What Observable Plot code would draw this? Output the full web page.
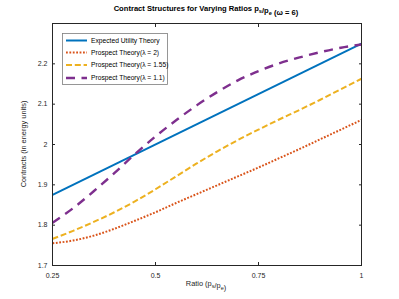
<!DOCTYPE html>
<html>
<head>
<meta charset="utf-8">
<script src="https://cdn.jsdelivr.net/npm/d3@7"></script>
<script src="https://cdn.jsdelivr.net/npm/@observablehq/plot@0.6"></script>
<style>
  html, body { margin: 0; padding: 0; background: #fff; }
  #chart { width: 399px; height: 299px; }
  svg { font-family: "Liberation Sans", Arial, Helvetica, sans-serif; }
</style>
</head>
<body>
<div id="chart"></div>
<script>
// ---- data ----
const ratioGrid = [0.25, 0.30, 0.35, 0.40, 0.45, 0.50, 0.55, 0.60, 0.65, 0.70, 0.75, 0.80, 0.85, 0.90, 0.95, 1.00];
const eutRatio = [0.25, 1.00];
const eutValues = [1.875, 2.25];
const pt2Values   = [1.755, 1.762, 1.774, 1.791, 1.811, 1.832, 1.855, 1.877, 1.899, 1.921, 1.943, 1.966, 1.989, 2.013, 2.037, 2.061];
const pt155Values = [1.766, 1.786, 1.808, 1.832, 1.859, 1.889, 1.921, 1.953, 1.983, 2.011, 2.037, 2.062, 2.086, 2.111, 2.137, 2.163];
const pt11Values  = [1.806, 1.842, 1.884, 1.929, 1.976, 2.020, 2.060, 2.097, 2.130, 2.159, 2.182, 2.201, 2.216, 2.229, 2.240, 2.248];
const seriesNames = ["Expected Utility Theory", "Prospect Theory(\u03bb = 2)", "Prospect Theory(\u03bb = 1.55)", "Prospect Theory(\u03bb = 1.1)"];
const seriesColors = ["#0072BD", "#D95319", "#EDB120", "#7E2F8E"];
const seriesDash = [null, "1.8,1.6", "6,2.8", "9,6.5"];
const seriesWidth = [2, 2, 2, 2.4];
const xTicks = [0.25, 0.5, 0.75, 1];
const xTickLabels = ["0.25", "0.5", "0.75", "1"];
const yTicks = [1.7, 1.8, 1.9, 2.0, 2.1, 2.2];
const yTickLabels = ["1.7", "1.8", "1.9", "2", "2.1", "2.2"];

const eut = eutRatio.map((x, i) => ({x, y: eutValues[i]}));
const pt2 = ratioGrid.map((x, i) => ({x, y: pt2Values[i]}));
const pt155 = ratioGrid.map((x, i) => ({x, y: pt155Values[i]}));
const pt11 = ratioGrid.map((x, i) => ({x, y: pt11Values[i]}));
const lines = [eut, pt2, pt155, pt11];

const axisColor = "#262626";
const fs = 7;

const plot = Plot.plot({
  width: 399,
  height: 299,
  marginLeft: 52,
  marginRight: 38,
  marginTop: 23,
  marginBottom: 34,
  style: {fontFamily: "Liberation Sans, Arial, sans-serif", fontSize: fs + "px", color: axisColor, background: "#fff"},
  x: {domain: [0.25, 1]},
  y: {domain: [1.7, 2.3]},
  marks: [
    Plot.axisX({anchor: "bottom", ticks: xTicks, tickSize: -3, tickPadding: 11, tickFormat: (d) => xTickLabels[xTicks.indexOf(d)], label: null, fontSize: fs}),
    Plot.axisX({anchor: "top", ticks: xTicks, tickSize: -3, tickFormat: () => "", label: null}),
    Plot.axisY({anchor: "left", ticks: yTicks, tickSize: -3, tickPadding: 8, tickFormat: d => yTickLabels[yTicks.findIndex(t => Math.abs(t - d) < 1e-9)], label: null, fontSize: fs}),
    Plot.axisY({anchor: "right", ticks: yTicks, tickSize: -3, tickFormat: () => "", label: null}),
    ...lines.map((data, i) => Plot.line(data, {
      x: "x", y: "y", curve: i === 0 ? "linear" : "monotone-x",
      stroke: seriesColors[i], strokeWidth: seriesWidth[i],
      strokeDasharray: seriesDash[i], strokeLinecap: "butt"
    })),
    Plot.frame({stroke: axisColor, strokeWidth: 1})
  ]
});

document.getElementById("chart").appendChild(plot);
const svg = d3.select(plot);

// text with subscripts
function subText(sel, parts) {
  parts.forEach(p => {
    if (p.sub) {
      sel.append("tspan").attr("dy", "0.35em").attr("font-size", "0.75em").text(p.t);
      sel.append("tspan").attr("dy", "-0.35em").text("");
    } else {
      sel.append("tspan").text(p.t);
    }
  });
}
const title = svg.append("text")
  .attr("x", 206).attr("y", 11)
  .attr("text-anchor", "middle")
  .attr("font-weight", "bold")
  .attr("font-size", 7.6)
  .attr("fill", "#000");
subText(title, [{t: "Contract Structures for Varying Ratios p"}, {t: "s", sub: true}, {t: "/p"}, {t: "e", sub: true}, {t: " (\u03c9 = 6)"}]);

const xl = svg.append("text")
  .attr("x", 206).attr("y", 286)
  .attr("text-anchor", "middle")
  .attr("font-size", 7.4)
  .attr("fill", axisColor);
subText(xl, [{t: "Ratio (p"}, {t: "s", sub: true}, {t: "/p"}, {t: "e", sub: true}, {t: ")"}]);

svg.append("text")
  .attr("transform", "translate(26,144) rotate(-90)")
  .attr("text-anchor", "middle")
  .attr("font-size", 7.4)
  .attr("fill", axisColor)
  .text("Contracts (in energy units)");

// legend
const lg = svg.append("g");
lg.append("rect").attr("x", 62.5).attr("y", 33.5).attr("width", 105).attr("height", 51)
  .attr("fill", "#fff").attr("stroke", "#262626").attr("stroke-opacity", 0.6).attr("stroke-width", 0.8);
const rowY = [40.5, 52.5, 65, 78];
seriesNames.forEach((name, i) => {
  lg.append("line").attr("x1", 66).attr("x2", 87).attr("y1", rowY[i]).attr("y2", rowY[i])
    .attr("stroke", seriesColors[i]).attr("stroke-width", seriesWidth[i])
    .attr("stroke-dasharray", seriesDash[i]);
  lg.append("text").attr("x", 91).attr("y", rowY[i]).attr("dy", "0.35em")
    .attr("text-anchor", "start")
    .attr("font-size", 6.7).attr("fill", "#000").text(name);
});
</script>
</body>
</html>
